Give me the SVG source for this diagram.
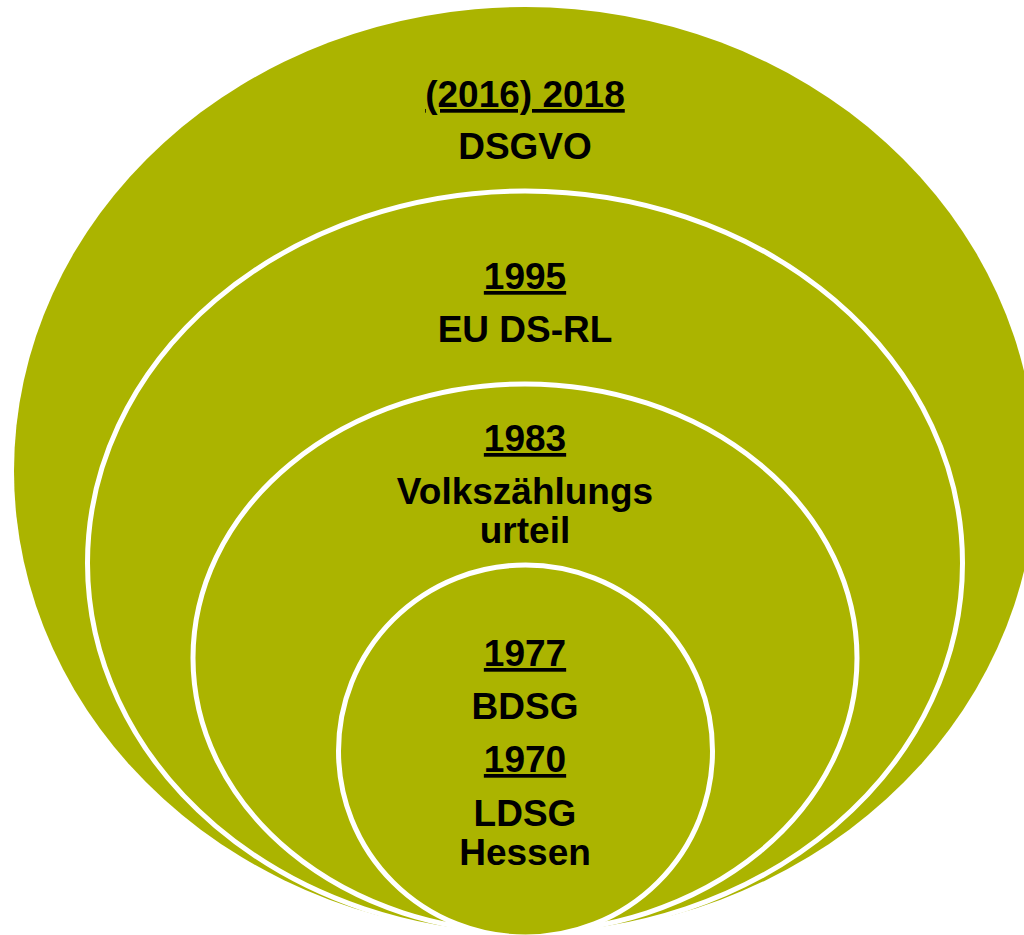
<svg xmlns="http://www.w3.org/2000/svg" width="1024" height="935" viewBox="0 0 1024 935">
  <style>
    .ring { fill: #ABB400; stroke: #FFFFFF; stroke-width: 5; }
    .outer { fill: #ABB400; stroke: none; }
    .t { font-family: "Liberation Sans", Arial, sans-serif; font-weight: bold; font-size: 37px; fill: #000000; text-anchor: middle; }
    .u { text-decoration: underline; }
  </style>
  <rect width="1024" height="935" fill="#FFFFFF"/>
  <g id="dsgvo">
    <ellipse class="outer" cx="525" cy="471" rx="511" ry="464"/>
    <text class="t u" x="525" y="107">(2016) 2018</text>
    <text class="t" x="525" y="159">DSGVO</text>
  </g>
  <g id="eu-ds-rl">
    <ellipse class="ring" cx="525" cy="563" rx="437.5" ry="372"/>
    <text class="t u" x="525" y="289">1995</text>
    <text class="t" x="525" y="342">EU DS-RL</text>
  </g>
  <g id="volkszaehlungsurteil">
    <ellipse class="ring" cx="525" cy="658" rx="332" ry="274"/>
    <text class="t u" x="525" y="451">1983</text>
    <text class="t" x="525" y="504">Volkszählungs</text>
    <text class="t" x="525" y="543">urteil</text>
  </g>
  <g id="bdsg-ldsg">
    <ellipse class="ring" cx="525.5" cy="751" rx="187" ry="186"/>
    <text class="t u" x="525" y="666">1977</text>
    <text class="t" x="525" y="719">BDSG</text>
    <text class="t u" x="525" y="772">1970</text>
    <text class="t" x="525" y="826">LDSG</text>
    <text class="t" x="525" y="865">Hessen</text>
  </g>
  <g id="connectors"/>
</svg>
